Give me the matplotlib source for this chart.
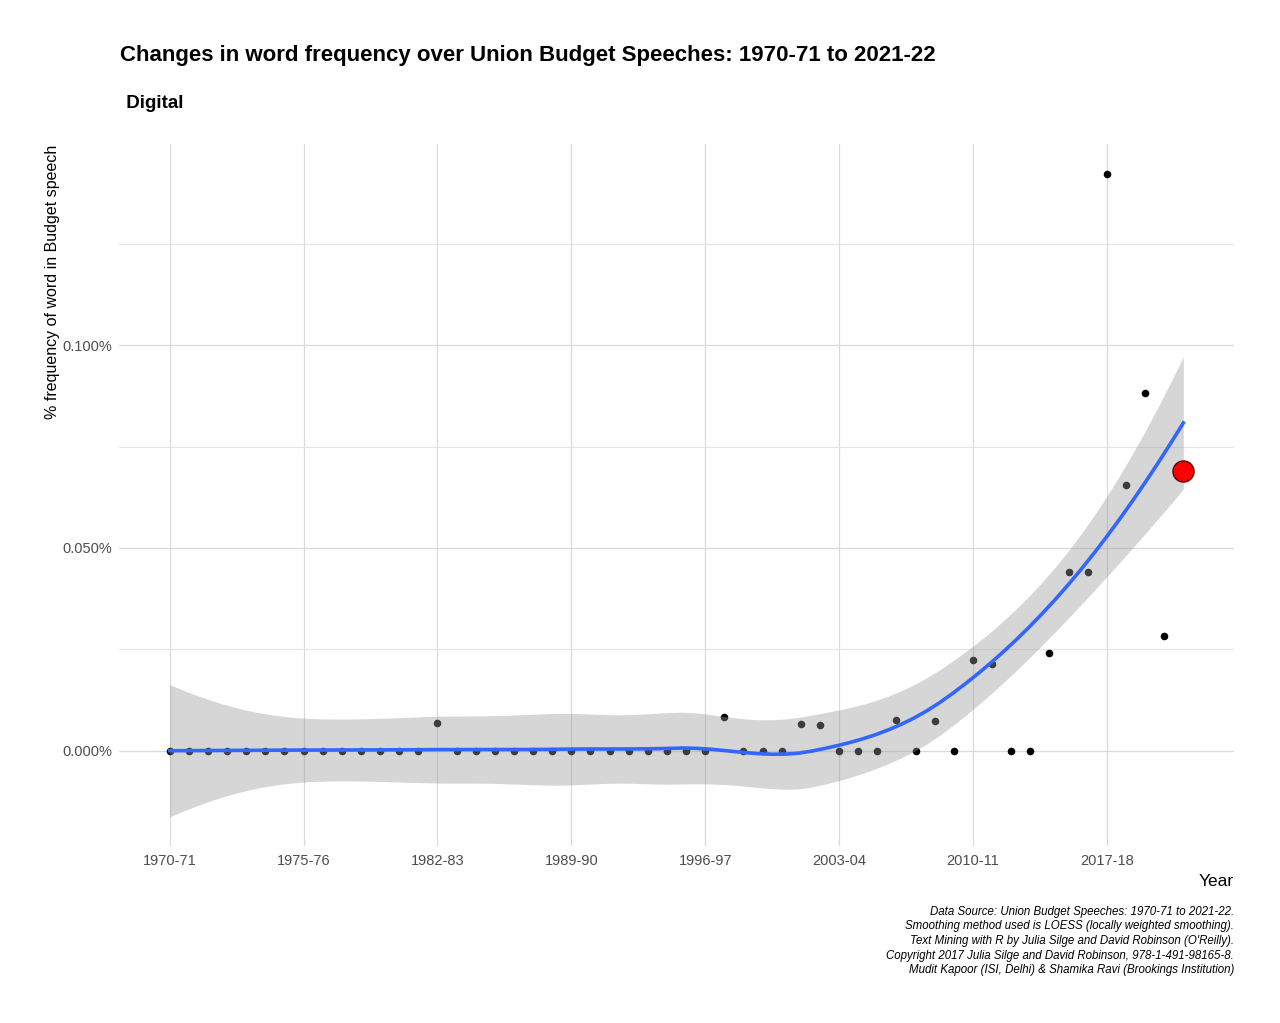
import numpy as np
import matplotlib
matplotlib.use("Agg")
import matplotlib.pyplot as plt
from matplotlib.ticker import FuncFormatter, MultipleLocator

# ---------------- data ----------------
title = "Changes in word frequency over Union Budget Speeches: 1970-71 to 2021-22"
subtitle = " Digital"
tick_labels = ["1970-71", "1975-76", "1982-83", "1989-90", "1996-97",
               "2003-04", "2010-11", "2017-18"]
tick_step = 7
# % frequency of the word "digital" per speech (percent units), 54 speeches
freq_pct = [0, 0, 0, 0, 0, 0, 0, 0, 0, 0, 0, 0, 0, 0,
            0.0068,
            0, 0, 0, 0, 0, 0, 0, 0, 0, 0, 0, 0, 0, 0,
            0.0083, 0, 0, 0, 0.0066, 0.0063, 0, 0, 0, 0.0075, 0,
            0.0072, 0, 0.0224, 0.0215, 0, 0, 0.0242, 0.0441, 0.0441,
            0.1421, 0.0656, 0.0881, 0.0283, 0.0689]
caption_lines = [
    "Data Source: Union Budget Speeches: 1970-71 to 2021-22.",
    "Smoothing method used is LOESS (locally weighted smoothing).",
    "Text Mining with R by Julia Silge and David Robinson (O'Reilly).",
    "Copyright 2017 Julia Silge and David Robinson, 978-1-491-98165-8.",
    "Mudit Kapoor (ISI, Delhi) & Shamika Ravi (Brookings Institution)",
]

# ---------------- loess (span .75, degree 2, kd-tree interpolation like R) ----------------
SPAN = 0.75


def local_rows(x, x0, span=SPAN):
    n = len(x)
    q = int(np.floor(n * span))
    d = np.abs(x - x0)
    h = max(np.sort(d)[q - 1], 1e-12)
    w = np.clip(1 - (d / h) ** 3, 0, None) ** 3
    X = np.vstack([np.ones(n), x - x0, (x - x0) ** 2]).T
    A = X.T @ (w[:, None] * X)
    B = np.linalg.solve(A, X.T * w)
    return B[0], B[1]  # value row, slope row


def build_vertices(x, span=SPAN, cell=0.2):
    xsrt = np.sort(x)
    n = len(x)
    fc = int(np.floor(n * span * cell))
    lo_, hi_ = xsrt[0], xsrt[-1]
    mu = 0.005 * (hi_ - lo_)
    verts = [lo_ - mu, hi_ + mu]

    def split(l, u):  # 0-based inclusive
        if u - l + 1 <= fc:
            return
        m = (l + u) // 2
        v = 0.5 * (xsrt[m] + xsrt[m + 1])
        verts.append(v)
        split(l, m)
        split(m + 1, u)

    split(0, n - 1)
    return np.array(sorted(verts))


def loess_operator(x, xs):
    verts = build_vertices(x)
    V = [local_rows(x, v) for v in verts]
    L = np.zeros((len(xs), len(x)))
    for k, xx in enumerate(xs):
        j = np.searchsorted(verts, xx) - 1
        j = int(np.clip(j, 0, len(verts) - 2))
        v0, v1 = verts[j], verts[j + 1]
        hh = v1 - v0
        t = (xx - v0) / hh
        h00 = 2 * t**3 - 3 * t**2 + 1
        h10 = t**3 - 2 * t**2 + t
        h01 = -2 * t**3 + 3 * t**2
        h11 = t**3 - t**2
        L[k] = (h00 * V[j][0] + h10 * hh * V[j][1]
                + h01 * V[j + 1][0] + h11 * hh * V[j + 1][1])
    return L


y = np.array(freq_pct, dtype=float)
x = np.arange(1, len(y) + 1, dtype=float)
Lself = loess_operator(x, x)
resid = y - Lself @ y
IL = np.eye(len(y)) - Lself
M = IL.T @ IL
d1 = np.trace(M)
d2 = np.trace(M @ M)
s = np.sqrt(np.sum(resid ** 2) / d1)
df = d1 ** 2 / d2
tq = 1.96 + 2.4 / df  # approx t quantile 0.975
xs = np.linspace(x[0], x[-1], 80)
Lg = loess_operator(x, xs)
fit = Lg @ y
se = s * np.sqrt(np.sum(Lg ** 2, axis=1))
lo, hi = fit - tq * se, fit + tq * se

# ---------------- fonts ----------------
plt.rcParams["font.family"] = ["Liberation Sans", "DejaVu Sans"]

# ---------------- figure ----------------
W, H = 1280, 1023
fig = plt.figure(figsize=(W / 100, H / 100), dpi=100)
ax = fig.add_axes([119 / W, (H - 846) / H, (1234 - 119) / W, (846 - 144) / H])

ax.scatter(x[:-1], y[:-1], s=30, color="black", zorder=2, linewidths=0)
ax.fill_between(xs, lo, hi, color="#999999", alpha=0.4, linewidth=0, zorder=3)
ax.plot(xs, fit, color="#3366FF", lw=2.6, zorder=4)
ax.scatter(x[-1:], y[-1:], s=230, color="#FF0000", edgecolor="#5a0000", linewidths=1.0, zorder=5)

ax.set_ylim(-0.0235, 0.1496)
xr = x[-1] - x[0]
ax.set_xlim(x[0] - 0.05 * xr, x[-1] + 0.05 * xr)

ax.set_xticks(x[::tick_step][:len(tick_labels)])
ax.set_xticklabels(tick_labels)
ax.yaxis.set_major_locator(MultipleLocator(0.05))
ax.yaxis.set_minor_locator(MultipleLocator(0.025))
ax.yaxis.set_major_formatter(FuncFormatter(lambda v, p: f"{v:.3f}%"))

for sp in ax.spines.values():
    sp.set_visible(False)
ax.tick_params(axis="both", which="both", length=0, labelsize=10.5, labelcolor="#4D4D4D")
ax.tick_params(axis="x", pad=6)
ax.tick_params(axis="y", pad=5)
ax.grid(which="major", color="#DADADA", lw=0.9)
ax.grid(which="minor", axis="y", color="#E4E4E4", lw=0.8)
ax.set_axisbelow(True)

fig.text(120 / W, 1 - 56 / H, title, fontsize=16, fontweight="bold", ha="left", va="center")
fig.text(121 / W, 1 - 103 / H, subtitle, fontsize=13.5, fontweight="bold", ha="left", va="center")
fig.text(53 / W, 1 - 145 / H, "% frequency of word in Budget speech", rotation=90,
         fontsize=11.5, ha="center", va="top")
fig.text(1234 / W, 1 - 881 / H, "Year", fontsize=12.5, ha="right", va="center")
for i, line in enumerate(caption_lines):
    fig.text(1234 / W, 1 - (912 + i * 14.5) / H, line, fontsize=8.3, style="italic",
             ha="right", va="center")

fig.savefig("out.png", dpi=100, facecolor="white")
